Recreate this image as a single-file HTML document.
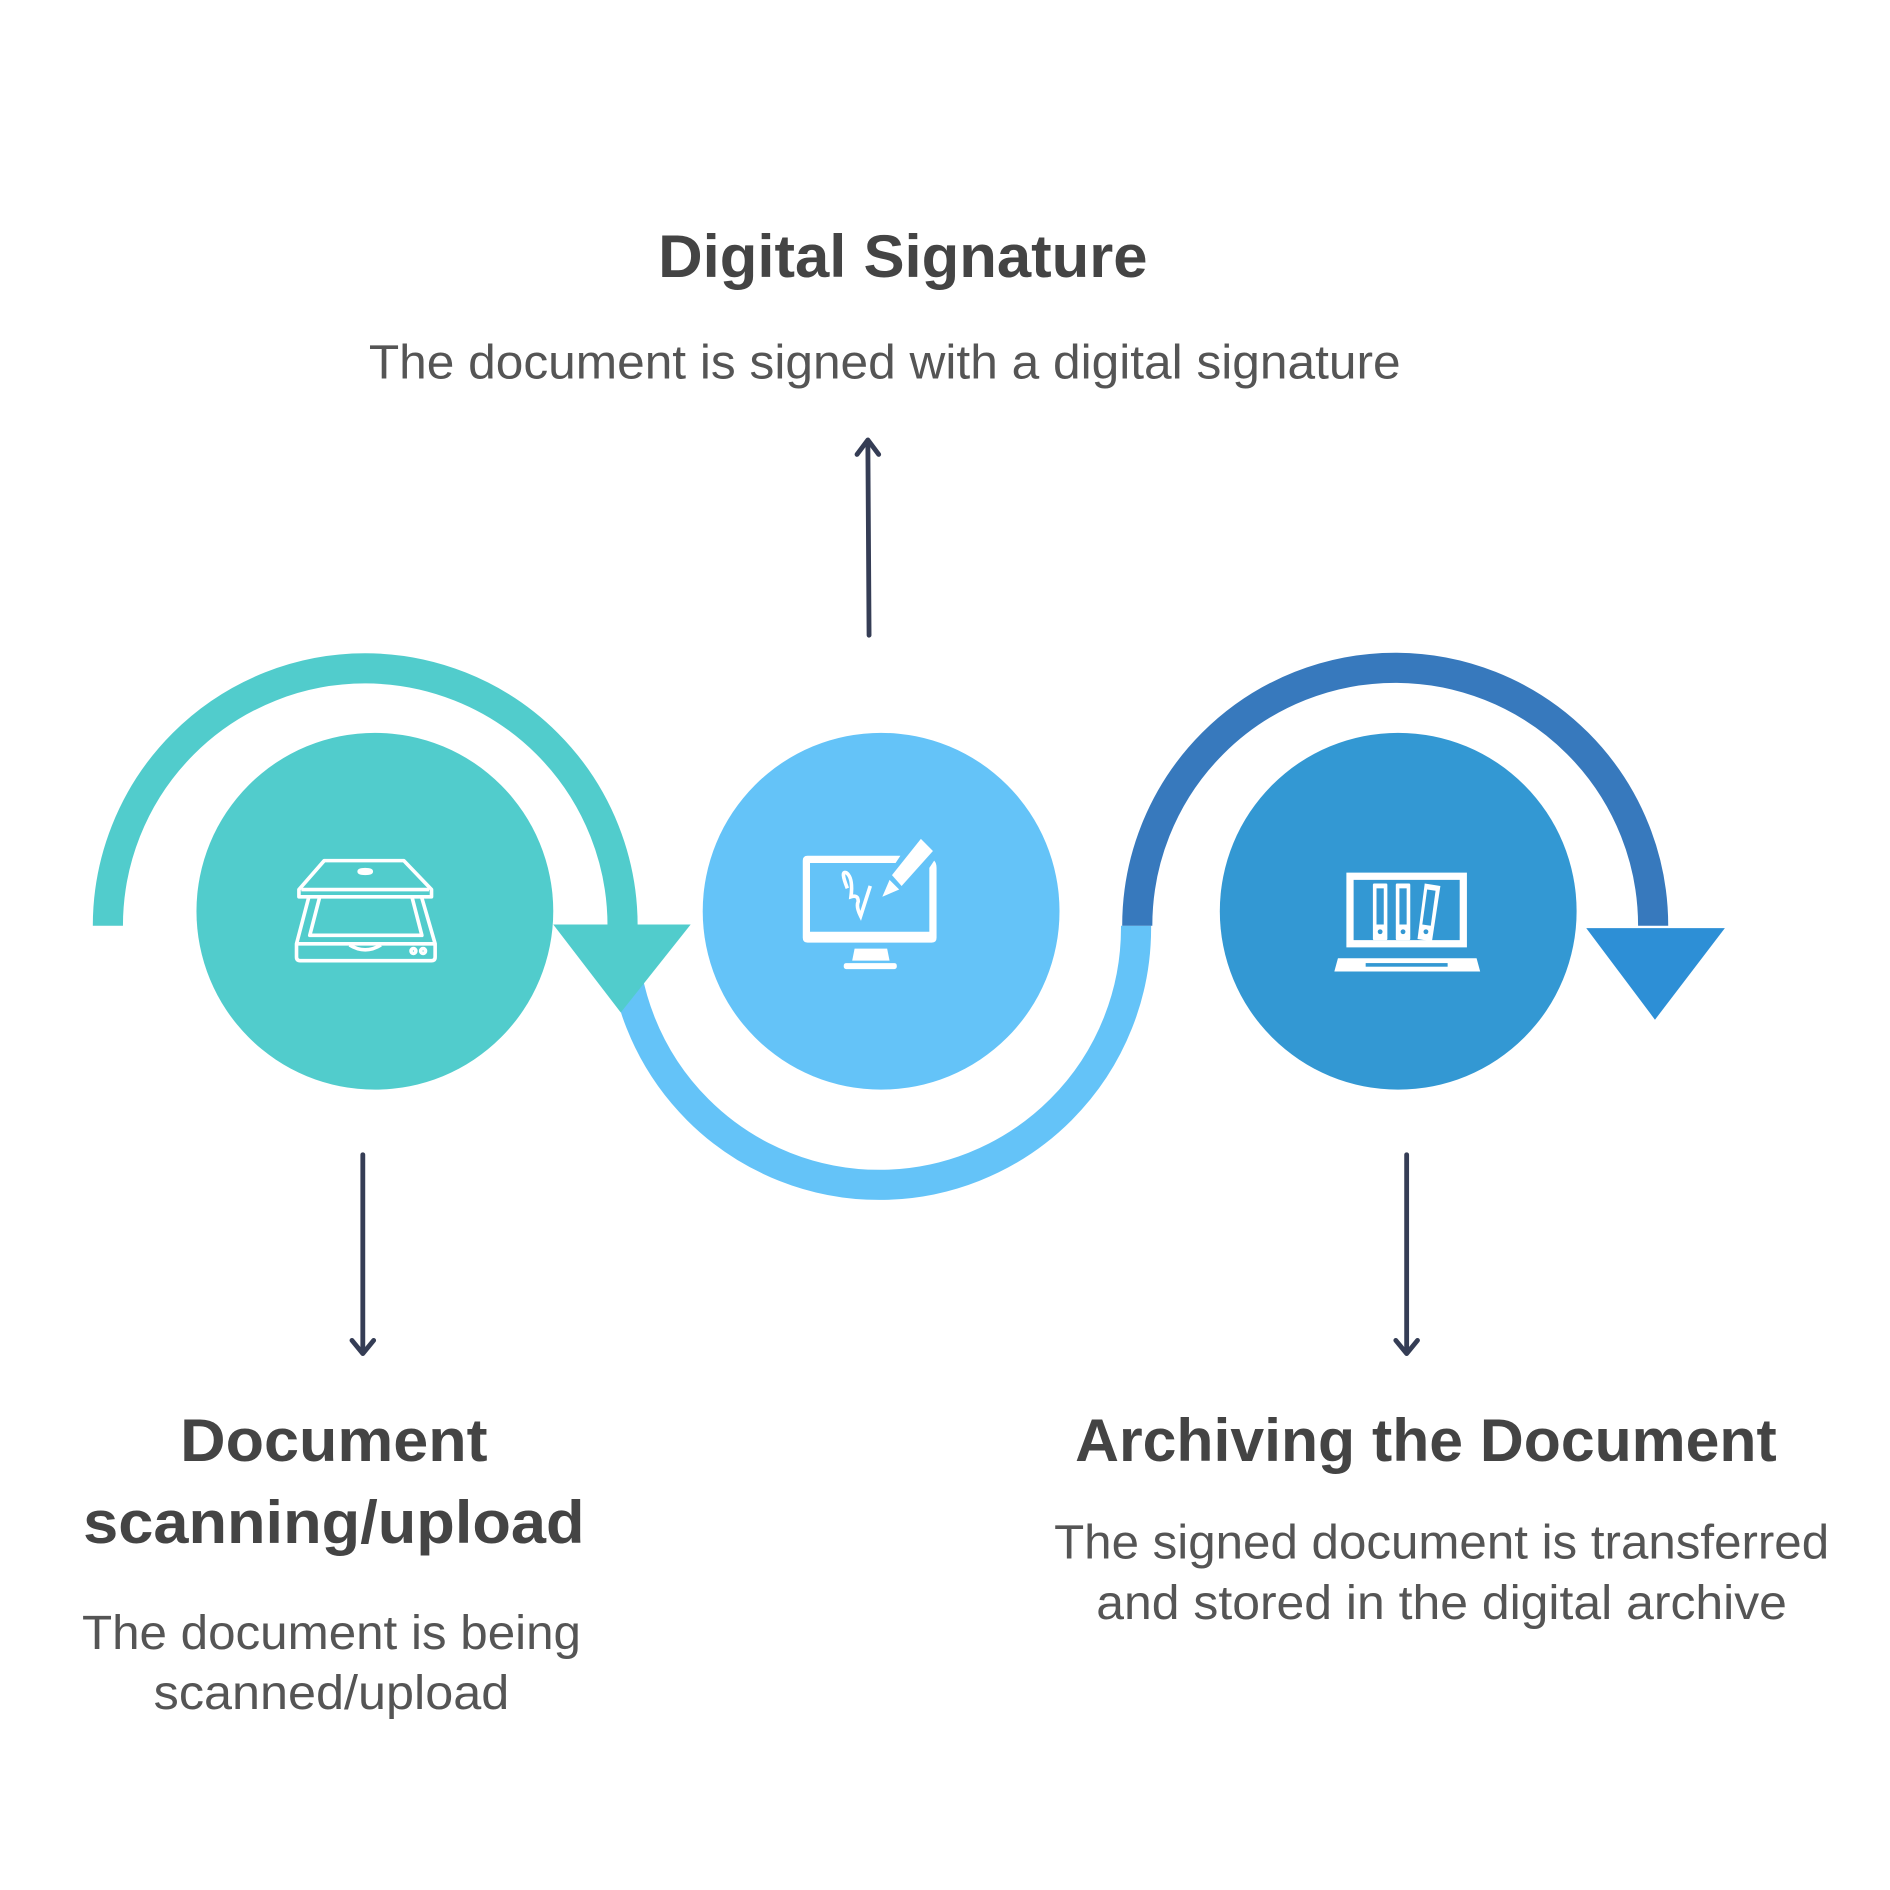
<!DOCTYPE html>
<html><head><meta charset="utf-8"><style>html,body{margin:0;padding:0;background:#fff}svg{display:block}</style></head>
<body>
<svg width="1890" height="1890" viewBox="0 0 1568 1568" xmlns="http://www.w3.org/2000/svg" font-family="'Liberation Sans', sans-serif">
<rect width="1568" height="1568" fill="#fff"/>
<!-- arcs -->
<path d="M89.5 768 A213.5 213.5 0 0 1 516.5 768" fill="none" stroke="#51CCCC" stroke-width="25"/>
<path d="M942.5 768 L942.5 770 A213 213 0 0 1 516.5 770" fill="none" stroke="#64C3F8" stroke-width="25"/>
<path d="M943.5 768 A213.5 213.5 0 0 1 1371.5 768" fill="none" stroke="#3779BD" stroke-width="25"/>
<polygon points="459,767 573,767 515,840" fill="#51CCCC"/>
<polygon points="1316,770 1431,770 1373,846" fill="#2D8FD6"/>
<!-- circles -->
<circle cx="311" cy="756" r="148" fill="#51CCCC"/>
<circle cx="731" cy="756" r="148" fill="#64C3F8"/>
<circle cx="1160" cy="756" r="148" fill="#3398D3"/>
<!-- scanner icon -->
<g fill="none" stroke="#fff" stroke-width="3" stroke-linejoin="round">
<path d="M269 714 L335 714 L358 738 L358 744 L248 744 L248 738 Z"/>
<line x1="250" y1="738" x2="356" y2="738"/>
<ellipse cx="303" cy="723" rx="5" ry="1.5"/>
<path d="M256 745 L246 783 L246 794 Q246 797 249 797 L358 797 Q361 797 361 794 L361 783 L350 745"/>
<path d="M265 745 L257 776 L350 776 L342 745"/>
<line x1="246" y1="783" x2="361" y2="783"/>
<path d="M290 784 Q303 792 316 784"/>
<circle cx="343" cy="789" r="2"/><circle cx="351" cy="789" r="2"/>
</g>
<!-- monitor icon -->
<g fill="#fff">
<path d="M670 710 L747 710 L743 716 L672 716 L672 773 L771 773 L771 720 L775 714 Q777 716 777 720 L777 778 Q777 782 773 782 L670 782 Q666 782 666 778 L666 714 Q666 710 670 710 Z"/>
<path d="M709 787 L736 787 L738 797 L707 797 Z"/>
<rect x="700" y="799" width="44" height="5" rx="2"/>
<path d="M764 696 L774 706 L748 735 L740 726 Z"/>
<path d="M738 730 L746 738 L732 744 Z"/>
</g>
<path d="M703 737 Q697 722 702 724 Q708 728 706 744 Q712 742 712 748 Q710 752 714 760 L722 735" fill="none" stroke="#fff" stroke-width="3"/>
<!-- laptop icon -->
<g fill="#fff">
<path d="M1117 724 L1217 724 L1217 786 L1117 786 Z M1123 730 L1123 780 L1211 780 L1211 730 Z" fill-rule="evenodd"/>
<path d="M1110 795 L1225 795 L1228 806 L1107 806 Z"/>
<rect x="1139" y="733" width="12" height="47" rx="1"/>
<rect x="1158" y="733" width="12" height="47" rx="1"/>
<path d="M1182 733 L1195 735 L1188 781 L1176 779 Z"/>
</g>
<g fill="#3398D3">
<rect x="1133" y="799" width="68" height="3"/>
<rect x="1142" y="737" width="6" height="30"/><rect x="1161" y="737" width="6" height="30"/>
<path d="M1184 738 L1191 739 L1187 768 L1180 767 Z"/>
<circle cx="1145" cy="773" r="2"/><circle cx="1164" cy="773" r="2"/><circle cx="1183" cy="773" r="2"/>
</g>
<!-- connector arrows -->
<g stroke="#353d55" stroke-width="4" fill="none" stroke-linecap="round" stroke-linejoin="round">
<line x1="721" y1="527" x2="720" y2="366"/><path d="M711 377 L720 365 L729 377"/>
<line x1="301" y1="958" x2="301" y2="1122"/><path d="M292 1112 L301 1123 L310 1112"/>
<line x1="1167" y1="958" x2="1167" y2="1122"/><path d="M1158 1112 L1167 1123 L1176 1112"/>
</g>
<!-- text -->
<g fill="#444" font-weight="bold" font-size="50" text-anchor="middle">
<text x="749" y="230" textLength="406" lengthAdjust="spacingAndGlyphs">Digital Signature</text>
<text x="277" y="1212" textLength="255" lengthAdjust="spacingAndGlyphs">Document</text>
<text x="277" y="1280" textLength="416" lengthAdjust="spacingAndGlyphs">scanning/upload</text>
<text x="1183" y="1212" textLength="582" lengthAdjust="spacingAndGlyphs">Archiving the Document</text>
</g>
<g fill="#555" font-size="40" text-anchor="middle">
<text x="734" y="314" textLength="856" lengthAdjust="spacingAndGlyphs">The document is signed with a digital signature</text>
<text x="275" y="1368" textLength="414" lengthAdjust="spacingAndGlyphs">The document is being</text>
<text x="275" y="1418" textLength="295" lengthAdjust="spacingAndGlyphs">scanned/upload</text>
<text x="1196" y="1293" textLength="643" lengthAdjust="spacingAndGlyphs">The signed document is transferred</text>
<text x="1196" y="1343" textLength="573" lengthAdjust="spacingAndGlyphs">and stored in the digital archive</text>
</g>
</svg>
</body></html>
